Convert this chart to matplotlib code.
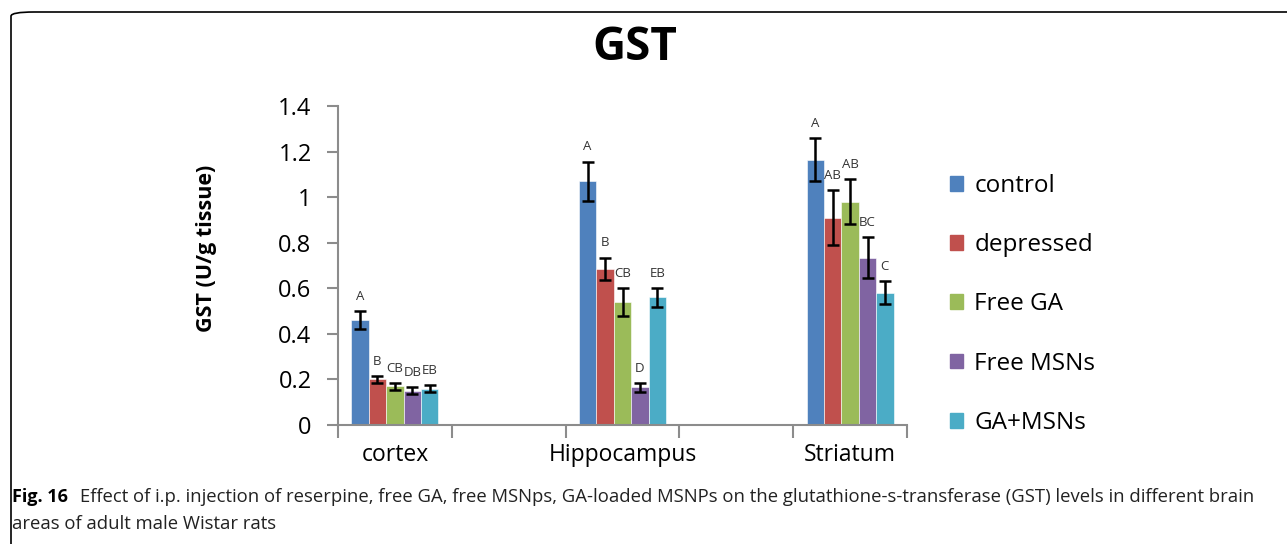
import numpy as np
import matplotlib.pyplot as plt
from matplotlib.patches import FancyBboxPatch, Patch

# brain areas (with empty category slots between them, as in the original)
areas = ["cortex", "", "Hippocampus", "", "Striatum"]
groups = ["control", "depressed", "Free GA", "Free MSNs", "GA+MSNs"]
colors = ["#4F81BD", "#C0504D", "#9BBB59", "#8064A2", "#4BACC6"]

# mean GST values per group, one value per area (None = empty slot)
control = [0.46, None, 1.07, None, 1.165]
depressed = [0.20, None, 0.685, None, 0.91]
free_ga = [0.17, None, 0.54, None, 0.98]
free_msns = [0.15, None, 0.165, None, 0.735]
ga_msns = [0.16, None, 0.56, None, 0.58]

control_err = [0.04, None, 0.085, None, 0.095]
depressed_err = [0.015, None, 0.05, None, 0.12]
free_ga_err = [0.015, None, 0.06, None, 0.10]
free_msns_err = [0.015, None, 0.02, None, 0.09]
ga_msns_err = [0.015, None, 0.04, None, 0.05]

# significance letters
control_lbl = ["A", "", "A", "", "A"]
depressed_lbl = ["B", "", "B", "", "AB"]
free_ga_lbl = ["CB", "", "CB", "", "AB"]
free_msns_lbl = ["DB", "", "D", "", "BC"]
ga_msns_lbl = ["EB", "", "EB", "", "C"]

values = [control, depressed, free_ga, free_msns, ga_msns]
errors = [control_err, depressed_err, free_ga_err, free_msns_err, ga_msns_err]
letters = [control_lbl, depressed_lbl, free_ga_lbl, free_msns_lbl, ga_msns_lbl]

font = "Open Sans"
fig = plt.figure(figsize=(12.87, 5.44), dpi=100)

# page frame with rounded top-left corner
frame = FancyBboxPatch((11 / 1287, -0.05), 1.2, 1.05 - 12 / 544,
                       boxstyle="round,pad=0,rounding_size=0.018",
                       transform=fig.transFigure, fill=False,
                       edgecolor="black", linewidth=1.2, mutation_aspect=544 / 1287)
fig.patches.append(frame)

ax = fig.add_axes([338 / 1287, 119 / 544, 569 / 1287, 319 / 544])

width = 0.153
x = np.arange(len(areas))
for i, (vals, errs, lbls) in enumerate(zip(values, errors, letters)):
    idx = [j for j, v in enumerate(vals) if v is not None]
    xs = x[idx] + (i - 2) * width
    v = [vals[j] for j in idx]
    e = [errs[j] for j in idx]
    ax.bar(xs, v, width, color=colors[i], edgecolor="white", linewidth=0.4, zorder=2)
    ax.errorbar(xs, v, yerr=e, fmt="none", ecolor="black", elinewidth=1.8,
                capsize=4.5, capthick=1.8, zorder=3)
    for xx, vv, ee, j in zip(xs, v, e, idx):
        ax.annotate(lbls[j], (xx, vv + ee), xytext=(0, 6), textcoords="offset points",
                    ha="center", va="bottom", fontsize=9.5, color="#333333",
                    family=font)

ax.set_xlim(-0.5, 4.5)
ax.set_ylim(0, 1.4)
ax.set_yticks(np.arange(0, 1.41, 0.2))
ax.set_yticklabels(["0", "0.2", "0.4", "0.6", "0.8", "1", "1.2", "1.4"],
                   fontsize=17, family=font)
ax.set_xticks(x)
ax.set_xticklabels(areas, fontsize=16.5, family=font)
ax.set_xticks(np.arange(-0.5, 4.6, 1), minor=True)
ax.tick_params(axis="x", which="major", length=0, pad=13)
ax.tick_params(axis="x", which="minor", length=9, width=1.5, color="#8c8c8c", direction="out")
ax.tick_params(axis="y", length=8, width=1.5, color="#8c8c8c", direction="out", pad=11)
for s in ["top", "right"]:
    ax.spines[s].set_visible(False)
for s in ["left", "bottom"]:
    ax.spines[s].set_color("#8c8c8c")
    ax.spines[s].set_linewidth(1.5)

ax.set_ylabel("GST (U/g tissue)", fontsize=15.5, fontweight="bold", family=font)
ax.yaxis.set_label_coords(-0.213, 0.555)

fig.text(635 / 1287, 1 - 47 / 544, "GST", ha="center", va="center",
         fontsize=33, fontweight="bold", family=font)

handles = [Patch(facecolor=c, edgecolor=c) for c in colors]
fig.legend(handles, groups, loc="upper left", bbox_to_anchor=(928 / 1287, 1 - 152 / 544),
           frameon=False, prop={"family": font, "size": 17.5}, handlelength=0.55,
           handleheight=0.55, handletextpad=0.45, labelspacing=1.45)

fig.text(12 / 1287, 1 - 497 / 544, "Fig. 16", ha="left", va="center",
         fontsize=13, fontweight="bold", family=font)
fig.text(80 / 1287, 1 - 497 / 544,
         "Effect of i.p. injection of reserpine, free GA, free MSNps, GA-loaded MSNPs on the "
         "glutathione-s-transferase (GST) levels in different brain",
         ha="left", va="center", fontsize=13.3, family=font, color="#222222")
fig.text(12 / 1287, 1 - 524 / 544, "areas of adult male Wistar rats",
         ha="left", va="center", fontsize=13.3, family=font, color="#222222")

fig.savefig("out.png", dpi=100)
